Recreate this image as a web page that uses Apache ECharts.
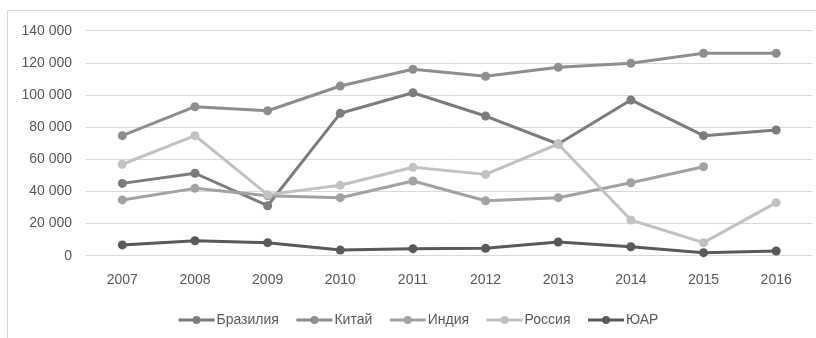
<!DOCTYPE html>
<html>
<head>
<meta charset="utf-8">
<script src="https://cdn.jsdelivr.net/npm/echarts@6/dist/echarts.min.js"></script>
<style>
  html, body { margin: 0; padding: 0; background: #fff; }
  #chart { width: 816px; height: 338px; }
</style>
</head>
<body>
<div id="chart"></div>
<script>
// Years on the category axis
const years = ['2007', '2008', '2009', '2010', '2011', '2012', '2013', '2014', '2015', '2016'];

// Values per country, in millions
const brazil = [45000, 51300, 31100, 88600, 101400, 86900, 69500, 96900, 74700, 78200];
const china  = [74700, 92700, 90200, 105600, 116000, 111600, 117200, 119700, 126000, 126000];
const india  = [34700, 41900, 37300, 36100, 46500, 34200, 36100, 45400, 55400, null];
const russia = [56900, 74700, 38000, 43800, 55000, 50600, 69500, 22200, 8100, 33000];
const rsa    = [6700, 9300, 8100, 3500, 4400, 4600, 8500, 5600, 1900, 2900];

const seriesNames = ['Бразилия', 'Китай', 'Индия', 'Россия', 'ЮАР'];
const seriesData = [brazil, china, india, russia, rsa];
const seriesColors = ['#7c7c7c', '#8e8e8e', '#a2a2a2', '#c2c2c2', '#595959'];

const fontFamily = '"Liberation Sans", Arial, sans-serif';

const chart = echarts.init(document.getElementById('chart'), null, { renderer: 'canvas' });

chart.setOption({
  animation: false,
  backgroundColor: '#ffffff',
  textStyle: { fontFamily: fontFamily },
  graphic: [{
    type: 'rect',
    shape: { x: 7.5, y: 10.5, width: 830, height: 340 },
    style: { fill: 'none', stroke: '#d9d9d9', lineWidth: 1 },
    silent: true,
    z: -1
  }],
  grid: { left: 86, right: 3.5, top: 30.7, bottom: 82.3, containLabel: false },
  legend: {
    top: 308,
    left: 172,
    itemWidth: 36,
    itemHeight: 10,
    itemGap: 16,
    lineStyle: { width: 3 },
    textStyle: { color: '#595959', fontSize: 14, fontFamily: fontFamily, padding: [0, 0, 0, -3] },
    data: seriesNames
  },
  xAxis: {
    type: 'category',
    data: years,
    boundaryGap: true,
    axisLine: { show: false },
    axisTick: { show: false },
    axisLabel: { color: '#595959', fontSize: 14, margin: 17 }
  },
  yAxis: {
    type: 'value',
    min: 0,
    max: 140000,
    interval: 20000,
    axisLine: { show: false },
    axisTick: { show: false },
    splitLine: { lineStyle: { color: '#d9d9d9', width: 1 } },
    axisLabel: {
      color: '#595959',
      fontSize: 14,
      margin: 14,
      formatter: v => v === 0 ? '0' : String(v).replace(/\B(?=(\d{3})+(?!\d))/g, ' ')
    }
  },
  series: seriesNames.map((name, i) => ({
    name: name,
    type: 'line',
    data: seriesData[i],
    symbol: 'circle',
    symbolSize: 9,
    showSymbol: true,
    connectNulls: false,
    lineStyle: { color: seriesColors[i], width: 3 },
    itemStyle: { color: seriesColors[i] },
    emphasis: { disabled: true }
  }))
});
</script>
</body>
</html>
